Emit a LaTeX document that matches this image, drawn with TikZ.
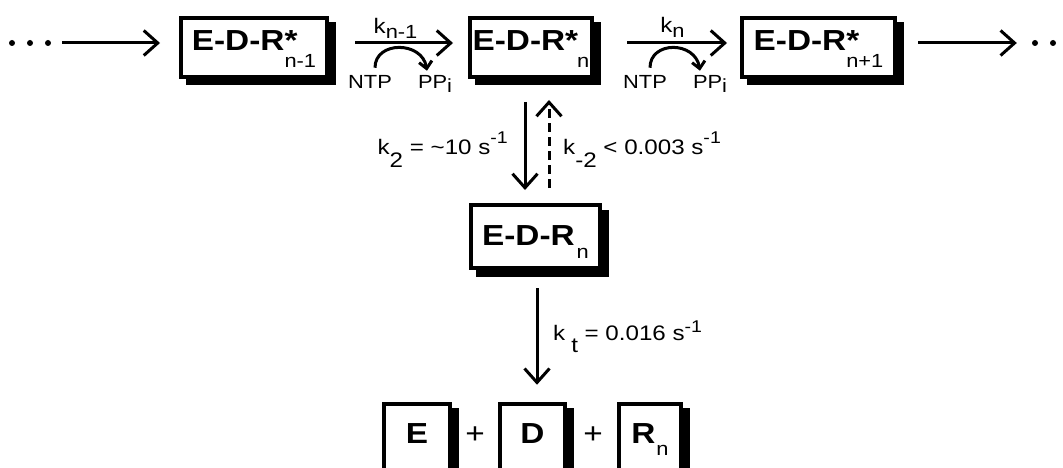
\documentclass[tikz,border=0pt]{standalone}
\usepackage{fontspec}
\setmainfont[FakeStretch=1.15]{Liberation Sans}
\usetikzlibrary{arrows.meta,backgrounds,calc}
\newcommand{\bxfont}{\fontsize{29}{30}\selectfont\bfseries}
\newcommand{\sbfont}{\fontsize{19}{20}\selectfont\mdseries}
\newcommand{\lbfont}{\fontsize{21}{22}\selectfont}
\newcommand{\spfont}{\fontsize{17}{18}\selectfont}
\newcommand{\ntpfont}{\fontsize{19}{20}\selectfont}
\tikzset{
  rbox/.style={draw, line width=4pt, fill=white, inner sep=0pt, outer sep=2pt, font=\bxfont},
  topbox/.style={rbox, minimum height=59pt, text height=24pt, text depth=17pt},
  midbox/.style={rbox, minimum height=63pt, text height=30pt, text depth=13pt},
  botbox/.style={rbox, minimum height=69.5pt, text height=21pt, text depth=12pt},
  shadowfill/.style={fill=black},
  dot/.style={circle, fill=black, minimum size=6pt, inner sep=0pt},
  lbl/.style={font=\lbfont, inner sep=0pt},
  ntp/.style={font=\ntpfont, inner sep=0pt},
  plus/.style={font=\fontsize{29}{30}\selectfont, inner sep=0pt},
  arr/.style={line width=3pt, -{Straight Barb[length=14pt,width=25pt]}},
  curv/.style={line width=3pt, -{Straight Barb[length=7pt,width=13pt]}},
  dasharr/.style={arr, dash pattern=on 9pt off 5pt}
}
\begin{document}
\begin{tikzpicture}[x=1pt,y=-1pt]
\useasboundingbox (0,0) rectangle (1063,468);
\clip (0,0) rectangle (1063,468);

% boxes
\node[topbox, minimum width=146pt] (b1) at (254,47.5) {E-D-R\rlap{*}\raisebox{-17pt}{\sbfont n-1}};
\node[topbox, minimum width=122pt] (b2) at (531,47.5) {E-D-R*\kern-1pt\raisebox{-17pt}{\sbfont n}};
\node[topbox, minimum width=153pt] (b3) at (818.5,47.5) {E-D-R\rlap{*}\raisebox{-17pt}{\sbfont n+1}};
\node[midbox, minimum width=129pt] (b4) at (535.5,236.5) {E-D-R\kern2pt\raisebox{-13pt}{\sbfont n}};
\node[botbox, minimum width=66pt] (bE) at (417,438.5) {E};
\node[botbox, minimum width=65pt] (bD) at (532.5,438.5) {D};
\node[botbox, minimum width=62pt] (bR) at (650,438.5) {R\kern1pt\raisebox{-12pt}{\sbfont n}};

\begin{scope}[on background layer]
  \foreach \n in {b1,b2,b3,b4,bE,bD,bR}
    \fill[shadowfill] ([shift={(6.5pt,-6.5pt)}]\n.north west) rectangle ([shift={(6.5pt,-6.5pt)}]\n.south east);
\end{scope}

% plus signs
\node[plus, anchor=base] (p1) at (475,443) {+};
\node[plus, anchor=base] (p2) at (593,443) {+};

% dots
\node[dot] (l1) at (12,43) {};
\node[dot] (l2) at (30,43) {};
\node[dot] (l3) at (48,43) {};
\node[dot] (r1) at (1035,43) {};
\node[dot] (r2) at (1053,43) {};

% horizontal arrows
\draw[arr, shorten <=11pt, shorten >=19pt] (l3) -- (l3 -| b1.west);
\draw[arr, shorten <=26pt, shorten >=15pt] ([yshift=4.5pt]b1.east) -- ([yshift=4.5pt]b2.west);
\draw[arr, shorten <=33pt, shorten >=13pt] ([yshift=4.5pt]b2.east) -- ([yshift=4.5pt]b3.west);
\draw[arr, shorten <=21pt, shorten >=15pt] ([yshift=4.5pt]b3.east) -- (r1);

% rate labels on top arrows
\node[lbl, anchor=base] (kn1) at (395.5,34) {k\raisebox{-5pt}{\sbfont n-1}};
\node[lbl, anchor=base] (kn) at (672.5,33) {k\raisebox{-5pt}{\sbfont n}};

% NTP / PPi
\node[ntp, anchor=base] (ntp1) at (370,89) {NTP};
\node[ntp, anchor=base] (pp1) at (435,89) {PP\raisebox{-4pt}{\sbfont i}};
\node[ntp, anchor=base] (ntp2) at (645,89) {NTP};
\node[ntp, anchor=base] (pp2) at (710,89) {PP\raisebox{-4pt}{\sbfont i}};
\draw[curv] ([shift={(5pt,8pt)}]ntp1.north) .. controls +(0,-27) and +(-5,-30) .. ([shift={(-8pt,5pt)}]pp1.north);
\draw[curv] ([shift={(5pt,8pt)}]ntp2.north) .. controls +(0,-27) and +(-5,-30) .. ([shift={(-10pt,5pt)}]pp2.north);

% vertical arrows
\draw[arr, shorten <=23pt, shorten >=13pt] ([xshift=-6pt]b2.south) -- ([xshift=-6pt]b2.south |- b4.north);
\draw[dasharr, shorten <=15pt, shorten >=21pt] ([xshift=18pt]b2.south |- b4.north) -- ([xshift=18pt]b2.south);
\draw[arr, shorten <=18pt, shorten >=17pt] ([xshift=1.5pt]b4.south) -- ([xshift=1.5pt]b4.south |- bD.north);

% vertical labels
\node[lbl, anchor=base east] (lk2) at (508,155) {k\raisebox{-13pt}{2} = \textasciitilde10 s\raisebox{12pt}{\spfont -1}};
\node[lbl, anchor=base west] (lkm2) at (563,155) {k\raisebox{-13pt}{-2} < 0.003 s\raisebox{12pt}{\spfont -1}};
\node[lbl, anchor=base west] (lkt) at (553,340) {k\hspace{6pt}\raisebox{-12pt}{t} = 0.016 s\raisebox{8pt}{\spfont -1}};
\end{tikzpicture}
\end{document}
